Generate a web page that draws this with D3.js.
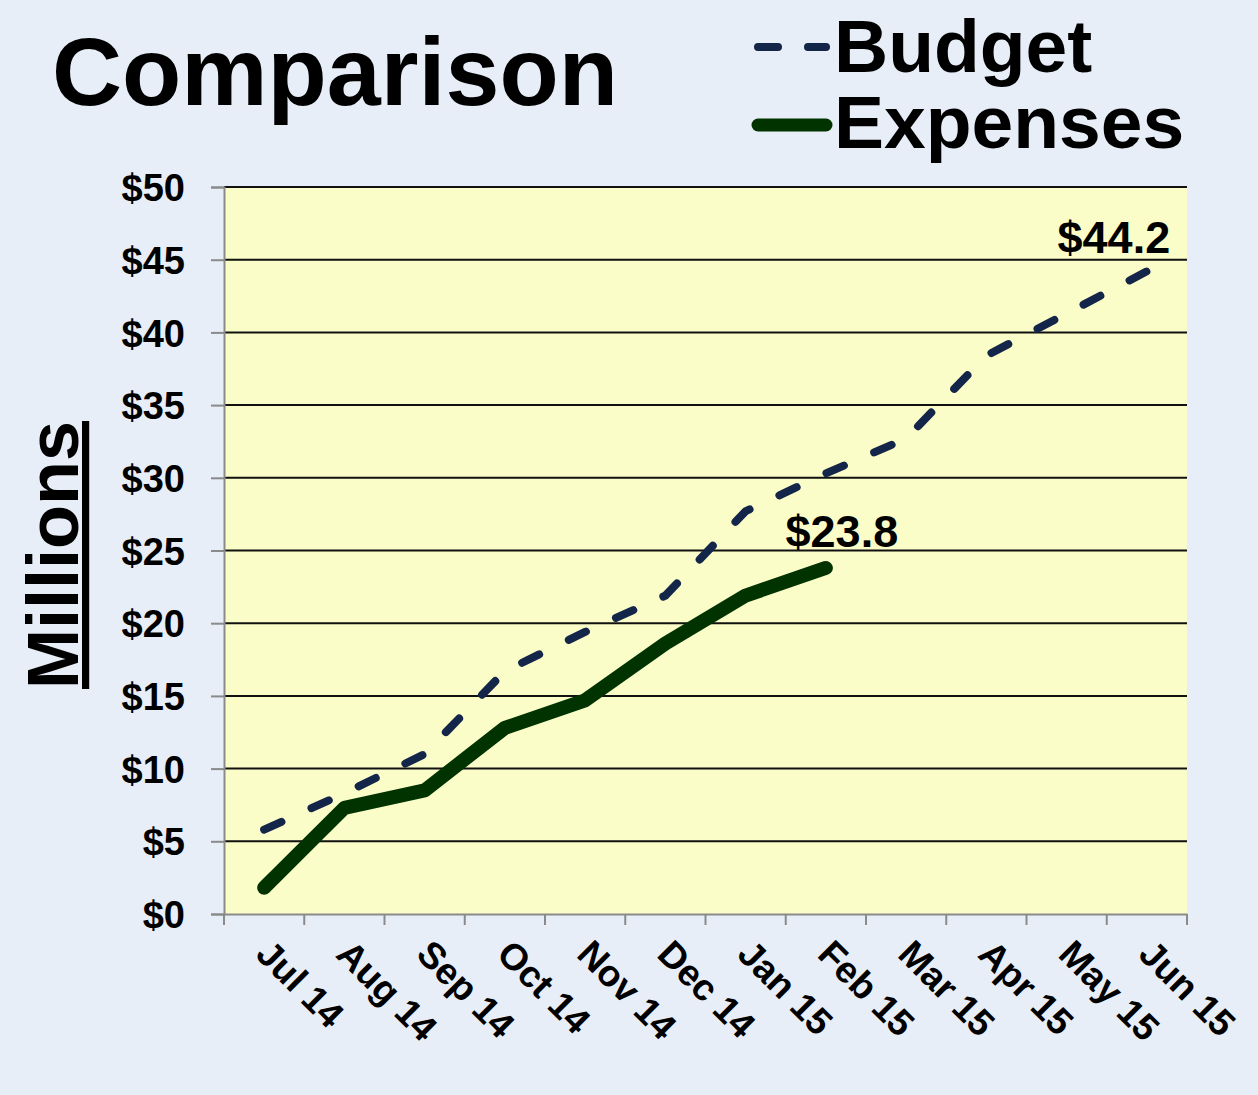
<!DOCTYPE html>
<html>
<head>
<meta charset="utf-8">
<script src="https://cdn.jsdelivr.net/npm/d3@7"></script>
<style>
  html, body { margin: 0; padding: 0; background: #e8eef7; }
  svg { display: block; font-family: "Liberation Sans", Arial, sans-serif; }
</style>
</head>
<body>
<svg width="1258" height="1095"></svg>
<script>
// Данные графика
const months = ["Jul 14", "Aug 14", "Sep 14", "Oct 14", "Nov 14", "Dec 14",
                "Jan 15", "Feb 15", "Mar 15", "Apr 15", "May 15", "Jun 15"];
const budget = [5.8, 8.3, 11.0, 16.7, 19.4, 21.9, 27.7, 30.3, 32.7, 38.4, 41.3, 44.2];
const expenses = [1.8, 7.3, 8.5, 12.8, 14.7, 18.6, 21.9, 23.8];
const yTicks = [0, 5, 10, 15, 20, 25, 30, 35, 40, 45, 50];

const svg = d3.select("svg");

let area = { left: 224, right: 1187, top: 187, bottom: 914 };

// Шкалы
const scX = d3.scaleBand().domain(months).range([area.left, area.right]);
const scY = d3.scaleLinear().domain([0, 50]).range([area.bottom, area.top]);
const cx = d => scX(d) + scX.bandwidth() / 2;

// Фон области графика
svg.append("rect")
    .attr("x", area.left).attr("y", area.top)
    .attr("width", area.right - area.left)
    .attr("height", area.bottom - area.top)
    .style("fill", "#fbfdc8");

// Горизонтальная сетка
svg.append("g")
    .selectAll("line")
    .data(yTicks.filter(v => v > 0))
    .enter()
    .append("line")
    .attr("x1", area.left).attr("x2", area.right)
    .attr("y1", d => scY(d)).attr("y2", d => scY(d))
    .style("stroke", "#111").style("stroke-width", 2);

// Ось Y
let axisY = svg.append("g")
    .attr("transform", `translate(${area.left}, 0)`)
    .call(d3.axisLeft(scY).tickValues(yTicks).tickSize(13).tickPadding(26)
        .tickFormat(d => "$" + d));
axisY.select(".domain").style("stroke", "#8a8a8a").style("stroke-width", 2);
axisY.selectAll(".tick line").style("stroke", "#8a8a8a").style("stroke-width", 2);
axisY.selectAll("text")
    .style("font-size", "38px").style("font-weight", "bold").style("fill", "#000")
    .attr("dy", "0.36em");

// Ось X
let axisX = svg.append("g")
    .attr("transform", `translate(0, ${area.bottom})`)
    .call(d3.axisBottom(scX).tickSize(0).tickFormat(""));
axisX.select(".domain").style("stroke", "#8a8a8a").style("stroke-width", 2);

// Засечки оси X по границам категорий
svg.append("g")
    .selectAll("line")
    .data(months.map(m => scX(m)).concat([area.right]))
    .enter()
    .append("line")
    .attr("x1", d => d).attr("x2", d => d)
    .attr("y1", area.bottom).attr("y2", area.bottom + 11)
    .style("stroke", "#8a8a8a").style("stroke-width", 2);

// Подписи месяцев
svg.append("g")
    .selectAll("text")
    .data(months)
    .enter()
    .append("text")
    .attr("transform", d => `translate(${cx(d) - 10}, ${area.bottom + 42}) rotate(45)`)
    .style("font-size", "37px").style("font-weight", "bold")
    .text(d => d);

// Линии
const line = d3.line()
    .x((d, i) => cx(months[i]))
    .y(d => scY(d));

svg.append("path")
    .datum(budget)
    .attr("d", line)
    .style("fill", "none")
    .style("stroke", "#14254a")
    .style("stroke-width", 8)
    .style("stroke-linecap", "round")
    .style("stroke-dasharray", "19,33");

svg.append("path")
    .datum(expenses)
    .attr("d", line)
    .style("fill", "none")
    .style("stroke", "#003300")
    .style("stroke-width", 14)
    .style("stroke-linecap", "round")
    .style("stroke-linejoin", "round");

// Подписи последних значений
svg.append("text")
    .attr("x", cx(months[budget.length - 1]) - 33)
    .attr("y", scY(budget[budget.length - 1]) - 18)
    .attr("text-anchor", "middle")
    .style("font-size", "45px").style("font-weight", "bold")
    .text("$" + budget[budget.length - 1].toFixed(1));

svg.append("text")
    .attr("x", cx(months[expenses.length - 1]) + 16)
    .attr("y", scY(expenses[expenses.length - 1]) - 21)
    .attr("text-anchor", "middle")
    .style("font-size", "45px").style("font-weight", "bold")
    .text("$" + expenses[expenses.length - 1].toFixed(1));

// Заголовок
svg.append("text")
    .attr("x", 52).attr("y", 105)
    .style("font-size", "97px").style("font-weight", "bold")
    .text("Comparison");

// Подпись оси Y
svg.append("text")
    .attr("transform", "translate(78, 555) rotate(-90)")
    .attr("text-anchor", "middle")
    .style("font-size", "72px").style("font-weight", "bold")
    .style("text-decoration", "underline")
    .text("Millions");

// Легенда
let legend = svg.append("g");
legend.append("line")
    .attr("x1", 758).attr("x2", 826).attr("y1", 47).attr("y2", 47)
    .style("stroke", "#14254a").style("stroke-width", 8)
    .style("stroke-linecap", "round").style("stroke-dasharray", "20,30");
legend.append("text")
    .attr("x", 834).attr("y", 72)
    .style("font-size", "75px").style("font-weight", "bold")
    .text("Budget");
legend.append("line")
    .attr("x1", 758).attr("x2", 826).attr("y1", 125).attr("y2", 125)
    .style("stroke", "#003300").style("stroke-width", 13)
    .style("stroke-linecap", "round");
legend.append("text")
    .attr("x", 834).attr("y", 148)
    .style("font-size", "75px").style("font-weight", "bold")
    .text("Expenses");
</script>
</body>
</html>
